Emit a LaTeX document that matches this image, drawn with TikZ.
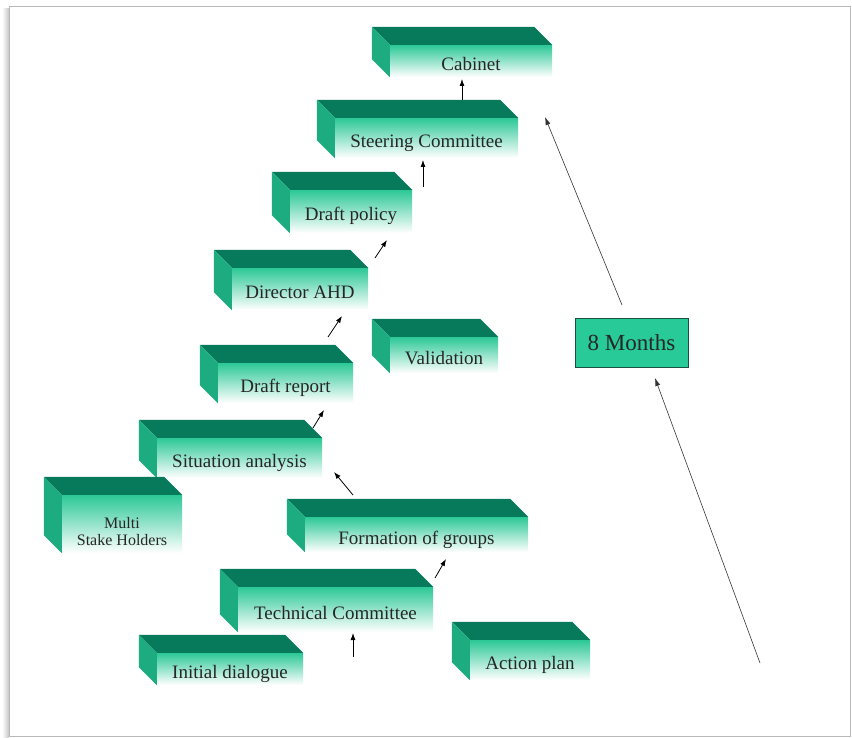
\documentclass[tikz,border=0pt]{standalone}
\usepackage{fontspec}
\setmainfont{Liberation Serif}
\usetikzlibrary{calc,arrows.meta}

\definecolor{slabtop}{RGB}{8,122,92}
\definecolor{slabside}{RGB}{28,172,128}
\definecolor{slabfront}{RGB}{44,200,150}
\definecolor{monthfill}{RGB}{40,202,152}
\definecolor{monthline}{RGB}{22,84,64}

\tikzset{
  front/.style={inner sep=0pt, top color=slabfront, middle color=slabfront!40,
    bottom color=white, text=black!85, text height=19pt, text depth=0pt,
    font=\fontsize{19}{21}\selectfont},
  topface/.style={fill=slabtop},
  sideface/.style={fill=slabside},
  arr/.style={-{Latex[length=7pt,width=5pt]}, line width=0.8pt},
  longarr/.style={-{Latex[length=8pt,width=5pt]}, line width=0.6pt, black!80},
  months/.style={draw=monthline, fill=monthfill, line width=0.8pt,
    minimum width=113pt, minimum height=49pt, text=black!85,
    font=\fontsize{23}{25}\selectfont}
}

% one green slab: name, centre of front face, width, height, text
\newcommand{\slab}[5]{%
  \node[front, minimum width=#3, minimum height=#4] (#1) at (#2) {#5};
  \fill[topface] (#1.north west) -- ++(-18,-18)
    -- ($(#1.north east)+(-18,-18)$) -- (#1.north east) -- cycle;
  \fill[sideface] (#1.north west) -- ++(-18,-18)
    -- ($(#1.south west)+(-18,-18)$) -- (#1.south west) -- cycle;
}

\begin{document}
\begin{tikzpicture}[x=1pt, y=-1pt]
  \useasboundingbox (0,0) rectangle (852,738);

  % frame
  \shade[left color=white, right color=gray!45] (2,9) rectangle (9,738);
  \draw[gray!55, line width=1pt] (9,7) rectangle (850,736);

  % slabs
  \slab{cab}{471,61}{162pt}{32pt}{Cabinet}
  \slab{sc}{426.5,138}{183pt}{40pt}{Steering Committee}
  \slab{dp}{351,211.5}{122pt}{43pt}{Draft policy}
  \slab{ahd}{300,289}{136pt}{42pt}{Director AHD}
  \slab{val}{444,355}{108pt}{36pt}{Validation}
  \slab{dr}{285.5,383}{135pt}{40pt}{Draft report}
  \slab{sa}{239.5,458}{165pt}{40pt}{Situation analysis}
  \slab{msh}{122,524}{120pt}{58pt}{%
    \fontsize{16}{17}\selectfont\raisebox{-4pt}{\begin{tabular}{@{}c@{}}Multi\\Stake Holders\end{tabular}}}
  \slab{fg}{416.5,534.5}{223pt}{35pt}{Formation of groups}
  \slab{tc}{335.5,609.5}{195pt}{45pt}{Technical Committee}
  \slab{id}{230,669}{146pt}{32pt}{Initial dialogue}
  \slab{ap}{530,660}{120pt}{40pt}{Action plan}

  \node[months] (mo) at (631.5,342.5) {8 Months};

  % small arrows between the slabs
  \coordinate (tc-in) at (353,657);   \coordinate (tc-top) at (353,633);
  \coordinate (tc-out) at (435,578);  \coordinate (fg-in) at (446,559);
  \coordinate (fg-out) at (353,495);  \coordinate (sa-in) at (334,472);
  \coordinate (sa-out) at (313,428);  \coordinate (dr-in) at (324,410);
  \coordinate (dr-out) at (328,337);  \coordinate (ahd-in) at (342,316);
  \coordinate (ahd-out) at (375,258); \coordinate (dp-in) at (387,240);
  \coordinate (dp-out) at (423,187);  \coordinate (sc-in) at (423,160);
  \coordinate (sc-out) at (462,100);  \coordinate (cab-in) at (462,79);

  \draw[arr] (tc-in) -- (tc-top);
  \draw[arr] (tc-out) -- (fg-in);
  \draw[arr] (fg-out) -- (sa-in);
  \draw[arr] (sa-out) -- (dr-in);
  \draw[arr] (dr-out) -- (ahd-in);
  \draw[arr] (ahd-out) -- (dp-in);
  \draw[arr] (dp-out) -- (sc-in);
  \draw[arr] (sc-out) -- (cab-in);

  % the long time line
  \coordinate (t0) at (760,663);  \coordinate (mo-in) at (655,378);
  \coordinate (mo-out) at (622,305); \coordinate (t1) at (545,117);
  \draw[longarr] (t0) -- (mo-in);
  \draw[longarr] (mo-out) -- (t1);
\end{tikzpicture}
\end{document}
